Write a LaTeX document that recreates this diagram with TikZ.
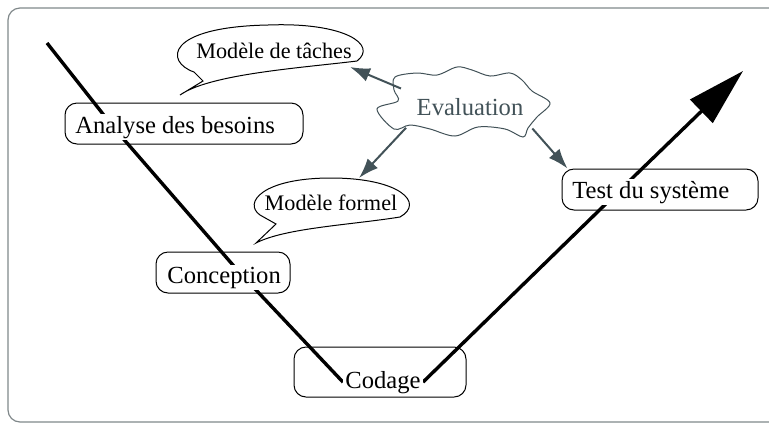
\documentclass[tikz,border=0pt]{standalone}
\usepackage{fontspec}
\setmainfont{Liberation Serif}
\usetikzlibrary{arrows.meta,shapes.geometric,backgrounds}

\definecolor{evalGray}{RGB}{66,82,88}
\definecolor{frameGray}{RGB}{128,136,138}

\begin{document}
\begin{tikzpicture}[x=0.5pt, y=-0.5pt,
        every node/.style={font=\fontsize{12.3}{14}\selectfont}]
        \tikzstyle{boxStyle} = [draw=black, line width=0.5pt, rounded corners=6pt, minimum height=20.5pt, inner sep=0pt]
        \tikzstyle{phaseText} = [fill=white, inner sep=1pt, anchor=base west]
        \tikzstyle{vLine} = [draw=black, line width=1.7pt]
        \tikzstyle{balloon} = [draw=black, line width=0.5pt]
        \tikzstyle{balloonText} = [font=\fontsize{11.1}{13}\selectfont, inner sep=0pt, anchor=base]
        \tikzstyle{evalArrow} = [draw=evalGray, line width=1pt, -{Latex[length=10pt, width=7pt]}]
        \useasboundingbox (0,0) rectangle (769,424);
        \draw[frameGray, line width=0.6pt, rounded corners=6pt] (8,8) rectangle (800,422);
        % phases of the V
        \node[boxStyle, minimum width=119pt] (analyseBox) at (184,123.5) {};
        \node[boxStyle, minimum width=67pt] (conceptionBox) at (223,272.5) {};
        \node[boxStyle, minimum width=86pt, minimum height=25pt] (codageBox) at (380,372) {};
        \node[boxStyle, minimum width=98pt] (testBox) at (660,189.5) {};
        \node[phaseText] (analyse) at (73,133) {Analyse des besoins};
        \node[phaseText] (conception) at (165,283) {Conception};
        \node[phaseText] (codage) at (343,388) {Codage};
        \node[phaseText] (test) at (570,198) {Test du système};
        \coordinate (vStart) at (47,43);
        \coordinate (vAnalyse) at (114,128);
        \coordinate (vConception) at (239,272);
        \coordinate (vTest) at (619,191);
        \coordinate (vEnd) at (743,71);
        \begin{pgfonlayer}{background}
            \draw[vLine] (vStart) -- (vAnalyse) -- (vConception) -- (codage.west);
            \draw[vLine, -{Triangle[length=29pt, width=16pt]}] (codage.east) -- (vTest) -- (vEnd);
        \end{pgfonlayer}
        % balloons
        \draw[balloon] (180,95) -- (203,81) -- (194,72) .. controls (165,62) and (165,27) .. (268,25)
            .. controls (345,22) and (378,45) .. (357,61) .. controls (300,68) and (210,74) .. (180,95) -- cycle;
        \node[balloonText] (taches) at (274,58) {Modèle de tâches};
        \draw[balloon] (256,243) -- (276,224) -- (260,215) .. controls (243,203) and (262,178) .. (331,178)
            .. controls (400,178) and (425,203) .. (400,217) .. controls (350,225) and (285,228) .. (256,243) -- cycle;
        \node[balloonText] (formel) at (331,210) {Modèle formel};
        % evaluation cloud
        \draw[evalGray, line width=0.5pt] plot[smooth cycle, tension=0.55] coordinates {
            (395,77) (417,73) (437,75) (457,67) (472,70) (490,76) (510,73) (522,80) (532,91) (550,103)
            (537,117) (528,128) (523,137) (505,129) (478,127) (455,136) (430,129) (410,125) (394,129)
            (377,109) (398,101) (394,90)};
        \node[ellipse, inner sep=0pt, minimum width=85pt, minimum height=31pt, text=evalGray] (evaluation) at (470,107) {Evaluation};
        \coordinate (tachesIn) at (350,67);
        \coordinate (formelIn) at (359,178);
        \coordinate (testIn) at ([xshift=3pt]testBox.north west);
        \foreach \ang/\target in {165/tachesIn, 198/formelIn, 341/testIn}
            \draw[evalArrow] (evaluation.\ang) -- (\target);
\end{tikzpicture}
\end{document}
